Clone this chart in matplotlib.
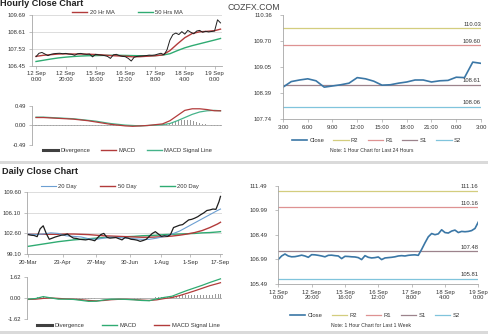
import matplotlib
import matplotlib.pyplot as plt
from matplotlib.lines import Line2D
from matplotlib.patches import Rectangle

matplotlib.use('Agg')
plt.rcParams['font.family'] = ['Liberation Sans', 'DejaVu Sans']

W, H = 489, 335

# hourly close, last week (every 2nd bar)
hr_idx = list(range(0, 125, 2))
hr_close = [107.03, 107.25, 107.30, 107.20, 107.10, 107.18, 107.22, 107.24, 107.25, 107.22,
            107.24, 107.20, 107.18, 107.12, 107.22, 107.24, 107.20, 107.18, 107.20, 107.02,
            107.18, 107.15, 107.13, 107.10, 107.05, 106.92, 107.15, 107.18, 107.10, 107.05,
            107.03, 106.92, 106.75, 107.00, 107.05, 107.07, 107.08, 107.10, 107.13, 107.12,
            107.14, 107.20, 107.25, 107.15, 107.46, 108.10, 108.45, 108.55, 108.45, 108.64,
            108.48, 108.72, 108.60, 108.50, 108.68, 108.72, 108.60, 108.66, 108.62, 108.65,
            108.68, 109.40, 109.20]
hr_ma_idx = [0, 5, 10, 15, 20, 25, 30, 35, 40, 45, 50, 55, 60, 65, 70, 75, 80, 85, 90, 95,
             100, 105, 110, 115, 120, 124]
hr_ma20 = [107.05, 107.12, 107.16, 107.20, 107.21, 107.20, 107.20, 107.19, 107.17, 107.14,
           107.10, 107.08, 107.06, 107.02, 107.03, 107.06, 107.09, 107.14, 107.42, 107.85,
           108.25, 108.52, 108.63, 108.66, 108.70, 108.80]
hr_ma50 = [106.72, 106.80, 106.88, 106.95, 107.00, 107.04, 107.07, 107.09, 107.10, 107.11,
           107.12, 107.12, 107.11, 107.10, 107.09, 107.09, 107.10, 107.13, 107.22, 107.42,
           107.60, 107.74, 107.86, 107.98, 108.10, 108.20]
hr_macd = [0.20, 0.20, 0.19, 0.18, 0.17, 0.16, 0.14, 0.12, 0.09, 0.06,
           0.03, 0.01, -0.01, -0.02, -0.01, 0.00, 0.02, 0.04, 0.12, 0.25,
           0.38, 0.42, 0.42, 0.40, 0.37, 0.37]
hr_signal = [0.21, 0.21, 0.20, 0.19, 0.18, 0.17, 0.15, 0.13, 0.11, 0.08,
             0.05, 0.03, 0.01, 0.00, -0.01, 0.00, 0.01, 0.02, 0.05, 0.12,
             0.20, 0.28, 0.34, 0.37, 0.38, 0.37]
hr_div = [-0.01, -0.01, -0.01, -0.01, -0.01, -0.01, -0.01, -0.01, -0.01, -0.01,
          -0.01, -0.01, -0.01, -0.01, -0.01, -0.01, -0.01, -0.01, -0.01, -0.01,
          -0.02, -0.02, -0.02, -0.02, -0.02, -0.02, -0.02, -0.02, -0.02, -0.02,
          -0.02, -0.02, -0.01, -0.01, 0.00, 0.00, 0.00, 0.00, 0.01, 0.01,
          0.01, 0.01, 0.02, 0.02, 0.03, 0.06, 0.09, 0.12, 0.14, 0.15,
          0.15, 0.14, 0.13, 0.11, 0.09, 0.07, 0.05, 0.03, 0.01, -0.01,
          -0.01, -0.01, -0.01]
hr_ticks = [0, 20, 40, 60, 80, 100, 120]
hr_labels = ['12 Sep\n0:00', '12 Sep\n20:00', '15 Sep\n16:00', '16 Sep\n12:00',
             '17 Sep\n8:00', '18 Sep\n4:00', '19 Sep\n0:00']
hr_yticks = [106.45, 107.53, 108.61, 109.69]
hr_macd_yticks = [-0.49, 0.00, 0.49]

# last 24 hours
day_close = [108.55, 108.69, 108.73, 108.76, 108.71, 108.55, 108.58, 108.61, 108.65,
             108.79, 108.76, 108.70, 108.60, 108.61, 108.65, 108.68, 108.73, 108.73,
             108.68, 108.71, 108.72, 108.80, 108.79, 109.18, 109.15]
day_ticks = [0, 3, 6, 9, 12, 15, 18, 21, 24]
day_labels = ['3:00', '6:00', '9:00', '12:00', '15:00', '18:00', '21:00', '0:00', '3:00']
day_yticks = [107.74, 108.39, 109.05, 109.70, 110.36]
day_levels = [110.03, 109.60, 108.61, 108.06]

# daily close
dl_idx = list(range(0, 127, 2)) + [127]
dl_close = [102.40, 102.30, 102.25, 102.05, 103.40, 103.90, 102.60, 101.60, 101.80, 102.00,
            102.15, 102.30, 102.35, 102.50, 102.10, 101.80, 101.75, 101.60, 101.55, 101.50,
            101.60, 101.50, 101.35, 101.90, 102.40, 102.60, 101.95, 101.80, 101.85, 101.90,
            101.70, 101.50, 101.90, 101.80, 101.60, 101.55, 101.45, 101.25, 101.40, 101.60,
            102.10, 102.60, 102.90, 102.50, 102.10, 102.20, 102.10, 102.40, 103.60, 103.80,
            104.00, 104.10, 104.50, 104.90, 105.00, 105.20, 105.45, 105.80, 106.10, 106.50,
            106.60, 106.75, 106.70, 108.00, 108.90]
dl_ma_idx = [0, 5, 10, 15, 20, 25, 30, 35, 40, 45, 50, 55, 60, 65, 70, 75, 80, 85, 90, 95,
             100, 105, 110, 115, 120, 125, 127]
dl_ma20 = [102.50, 102.40, 102.50, 102.70, 102.60, 102.20, 102.10, 102.00, 101.70, 101.60,
           101.80, 101.95, 101.90, 101.80, 101.70, 101.60, 101.60, 101.80, 102.10, 102.50,
           103.00, 103.70, 104.40, 105.10, 105.80, 106.50, 106.75]
dl_ma50 = [102.45, 102.45, 102.45, 102.45, 102.45, 102.50, 102.50, 102.45, 102.40, 102.30,
           102.20, 102.15, 102.10, 102.05, 102.00, 101.95, 101.95, 102.00, 102.05, 102.15,
           102.30, 102.50, 102.75, 103.10, 103.60, 104.20, 104.50]
dl_ma200 = [100.40, 100.60, 100.80, 101.00, 101.20, 101.35, 101.50, 101.60, 101.70, 101.80,
            101.90, 101.95, 102.00, 102.05, 102.10, 102.20, 102.25, 102.30, 102.40, 102.45,
            102.50, 102.55, 102.60, 102.70, 102.75, 102.85, 102.90]
dl_macd = [-0.08, -0.03, 0.12, 0.02, -0.08, -0.08, -0.10, -0.17, -0.25, -0.24,
           -0.14, -0.08, -0.08, -0.10, -0.13, -0.18, -0.20, -0.05, 0.06, 0.15,
           0.38, 0.60, 0.80, 1.00, 1.22, 1.42, 1.50]
dl_signal = [-0.10, -0.08, -0.02, 0.02, -0.02, -0.06, -0.08, -0.12, -0.18, -0.21,
             -0.18, -0.12, -0.09, -0.09, -0.11, -0.15, -0.18, -0.13, -0.03, 0.05,
             0.20, 0.38, 0.57, 0.77, 0.97, 1.13, 1.20]
dl_div = [0.02, 0.02, 0.04, 0.06, 0.10, 0.14, 0.08, 0.02, -0.02, -0.05,
          -0.06, -0.04, -0.02, -0.02, -0.02, -0.02, -0.03, -0.05, -0.06, -0.07,
          -0.07, -0.05, -0.03, 0.00, 0.04, 0.04, 0.04, 0.03, 0.01, 0.00,
          -0.01, -0.01, -0.02, -0.02, -0.02, -0.03, -0.03, -0.03, -0.02, -0.02,
          -0.02, 0.03, 0.08, 0.08, 0.09, 0.09, 0.10, 0.10, 0.14, 0.18,
          0.20, 0.22, 0.22, 0.23, 0.23, 0.23, 0.24, 0.24, 0.25, 0.26,
          0.27, 0.28, 0.29, 0.30, 0.30]
dl_ticks = [0, 23, 45, 67, 88, 107, 127]
dl_labels = ['20-Mar', '23-Apr', '27-May', '30-Jun', '1-Aug', '1-Sep', '17-Sep']
dl_yticks = [99.10, 102.60, 106.10, 109.60]
dl_macd_yticks = [-1.62, 0.00, 1.62]

# hourly close, last week (right panel)
wk_idx = list(range(0, 121, 2))
wk_close = [106.99, 107.20, 107.32, 107.20, 107.15, 107.16, 107.20, 107.25, 107.20, 107.12,
            107.28, 107.27, 107.24, 107.20, 107.15, 107.24, 107.25, 107.22, 107.20, 107.04,
            107.18, 107.17, 107.15, 107.14, 107.10, 106.98, 107.22, 107.12, 107.08, 107.10,
            107.14, 106.98, 107.08, 107.10, 107.12, 107.15, 107.20, 107.22, 107.20, 107.24,
            107.26, 107.27, 107.24, 107.60, 108.00, 108.37, 108.57, 108.50, 108.55, 108.80,
            108.63, 108.60, 108.72, 108.78, 108.63, 108.70, 108.68, 108.70, 108.75, 108.88,
            109.27]
wk_ticks = [0, 20, 40, 60, 80, 100, 120]
wk_yticks = [105.49, 106.99, 108.49, 109.99, 111.49]
wk_levels = [111.16, 110.16, 107.48, 105.81]

level_names = ['R2', 'R1', 'S1', 'S2']
level_colors = ['#d3cd7e', '#de9292', '#9c838c', '#80c4dc']

RED = '#b23b3b'
GREEN = '#2fab72'
BLUE = '#6c9fd2'
CLOSE_BLUE = '#3b77a6'
AXIS = '#a6a6a6'
TXT = '#333333'
FS = 4.2

fig = plt.figure(figsize=(W / 100, H / 100), dpi=100)


def px_axes(x0, y0, x1, y1):
    return fig.add_axes([x0 / W, 1 - y1 / H, (x1 - x0) / W, (y1 - y0) / H])


def style(ax, yticks, ypad=2.5):
    for s in ('top', 'right'):
        ax.spines[s].set_visible(False)
    for s in ('left', 'bottom'):
        ax.spines[s].set_color(AXIS)
        ax.spines[s].set_linewidth(0.6)
    ax.set_yticks(yticks)
    ax.set_yticklabels(['%.2f' % v for v in yticks])
    ax.set_ylim(yticks[0], yticks[-1])
    ax.tick_params(labelsize=FS, labelcolor=TXT, color=AXIS, length=2, width=0.5)
    ax.tick_params(axis='y', pad=ypad)
    ax.tick_params(axis='x', pad=2)
    ax.set_axisbelow(True)


def legend(ax, handles, labels, cx, cy, gap=1.9):
    ax.legend(handles, labels, loc='center', bbox_to_anchor=(cx / W, 1 - cy / H),
              bbox_transform=fig.transFigure, ncol=len(handles), frameon=False,
              fontsize=FS, handlelength=2.6, handletextpad=0.4, columnspacing=gap,
              borderpad=0, labelcolor=TXT)


def ln(color, lw=1.0):
    return Line2D([], [], color=color, lw=lw)


def levels(ax, vals, xmax):
    for v, c in zip(vals, level_colors):
        ax.axhline(v, color=c, lw=0.9)
        ax.annotate('%.2f' % v, (xmax, v), xytext=(0, 1.2), textcoords='offset points',
                    ha='right', va='bottom', fontsize=FS, color=TXT)


def macd_panel(ax, idx, div, ma_idx, macd, signal, macd_c, sig_c, ticks, yt, xlim):
    style(ax, yt)
    ax.bar(idx, div, width=0.7, color='#9a9a9a', lw=0)
    ax.axhline(0, color=AXIS, lw=0.6)
    ax.plot(ma_idx, signal, color=sig_c, lw=0.9)
    ax.plot(ma_idx, macd, color=macd_c, lw=0.9)
    ax.spines['bottom'].set_visible(False)
    ax.set_xlim(*xlim)
    ax.set_xticks(ticks)
    ax.tick_params(axis='x', length=0, labelbottom=False)


# ---- hourly close chart ----
ax = px_axes(32, 15.3, 222, 65.7)
style(ax, hr_yticks)
ax.grid(axis='y', color='#cfcfcf', lw=0.5)
ax.plot(hr_ma_idx, hr_ma50, color=GREEN, lw=1.0)
ax.plot(hr_ma_idx, hr_ma20, color=RED, lw=1.0)
ax.plot(hr_idx, hr_close, color='#1e1e1e', lw=0.7)
ax.set_xlim(-2.7, 125)
ax.set_xticks(hr_ticks)
ax.set_xticklabels(hr_labels, linespacing=1.1)
legend(ax, [ln(RED), ln(GREEN)], ['20 Hr MA', '50 Hrs MA'], 127.5, 12.7, gap=4.0)

ax = px_axes(32, 106, 222, 145)
macd_panel(ax, hr_idx, hr_div, hr_ma_idx, hr_macd, hr_signal, RED, '#45b38a',
           hr_ticks, hr_macd_yticks, (-2.7, 125))
legend(ax, [ln('#404040', 2.2), ln(RED), ln('#45b38a')],
       ['Divergence', 'MACD', 'MACD Signal Line'], 127.5, 150.7)

# ---- last 24 hours ----
ax = px_axes(283, 15.3, 481, 119.3)
style(ax, day_yticks, ypad=6)
levels(ax, day_levels, 24)
ax.plot(range(len(day_close)), day_close, color=CLOSE_BLUE, lw=1.2)
ax.set_xlim(0, 24)
ax.set_xticks(day_ticks)
ax.set_xticklabels(day_labels)
legend(ax, [ln(CLOSE_BLUE, 1.2)] + [ln(c, 0.9) for c in level_colors],
       ['Close'] + level_names, 376.5, 140.7, gap=1.6)
fig.text(372 / W, 1 - 151 / H, 'Note: 1 Hour Chart for Last 24 Hours',
         fontsize=3.7, color=TXT, ha='center', va='center')

# ---- daily close chart ----
ax = px_axes(27.3, 192.3, 222, 254)
style(ax, dl_yticks)
ax.grid(axis='y', color='#cfcfcf', lw=0.5)
ax.plot(dl_ma_idx, dl_ma200, color=GREEN, lw=1.0)
ax.plot(dl_ma_idx, dl_ma50, color=RED, lw=1.0)
ax.plot(dl_ma_idx, dl_ma20, color=BLUE, lw=0.8)
ax.plot(dl_idx, dl_close, color='#1e1e1e', lw=0.9)
ax.set_xlim(-0.5, 128)
ax.set_xticks(dl_ticks)
ax.set_xticklabels(dl_labels)
legend(ax, [ln(BLUE, 0.8), ln(RED), ln(GREEN)], ['20 Day', '50 Day', '200 Day'],
       120, 186, gap=4.0)

ax = px_axes(27.3, 277.3, 222, 319)
macd_panel(ax, dl_idx, dl_div, dl_ma_idx, dl_macd, dl_signal, GREEN, RED,
           dl_ticks, dl_macd_yticks, (-0.5, 128))
legend(ax, [ln('#404040', 2.2), ln(GREEN), ln(RED)],
       ['Divergence', 'MACD', 'MACD Signal Line'], 128.5, 325.7, gap=3.0)

# ---- last week, hourly ----
ax = px_axes(278.3, 185.7, 478.3, 284)
style(ax, wk_yticks, ypad=6)
levels(ax, wk_levels, 120)
ax.plot(wk_idx, wk_close, color=CLOSE_BLUE, lw=1.2)
ax.set_xlim(0, 120)
ax.set_xticks(wk_ticks)
ax.set_xticklabels(hr_labels, linespacing=1.1)
legend(ax, [ln(CLOSE_BLUE, 1.2)] + [ln(c, 0.9) for c in level_colors],
       ['Close'] + level_names, 375, 315, gap=1.6)
fig.text(371.5 / W, 1 - 325.7 / H, 'Note: 1 Hour Chart for Last 1 Week',
         fontsize=3.7, color=TXT, ha='center', va='center')

# titles and separators
fig.text(0.5 / W, 1 - 6 / H, 'Hourly Close Chart', fontsize=6.6, fontweight='bold',
         color='#222222', va='baseline')
fig.text(2 / W, 1 - 173.5 / H, 'Daily Close Chart', fontsize=6.6, fontweight='bold',
         color='#222222', va='baseline')
fig.text(228 / W, 1 - 7 / H, 'COZFX.COM', fontsize=6.3, color='#444444', va='center')
for y0, y1 in [(161.5, 164), (331, 333.5)]:
    fig.add_artist(Rectangle((0, 1 - y1 / H), 1, (y1 - y0) / H,
                             transform=fig.transFigure, color='#dadada', lw=0))

fig.savefig('out.png', dpi=100)
